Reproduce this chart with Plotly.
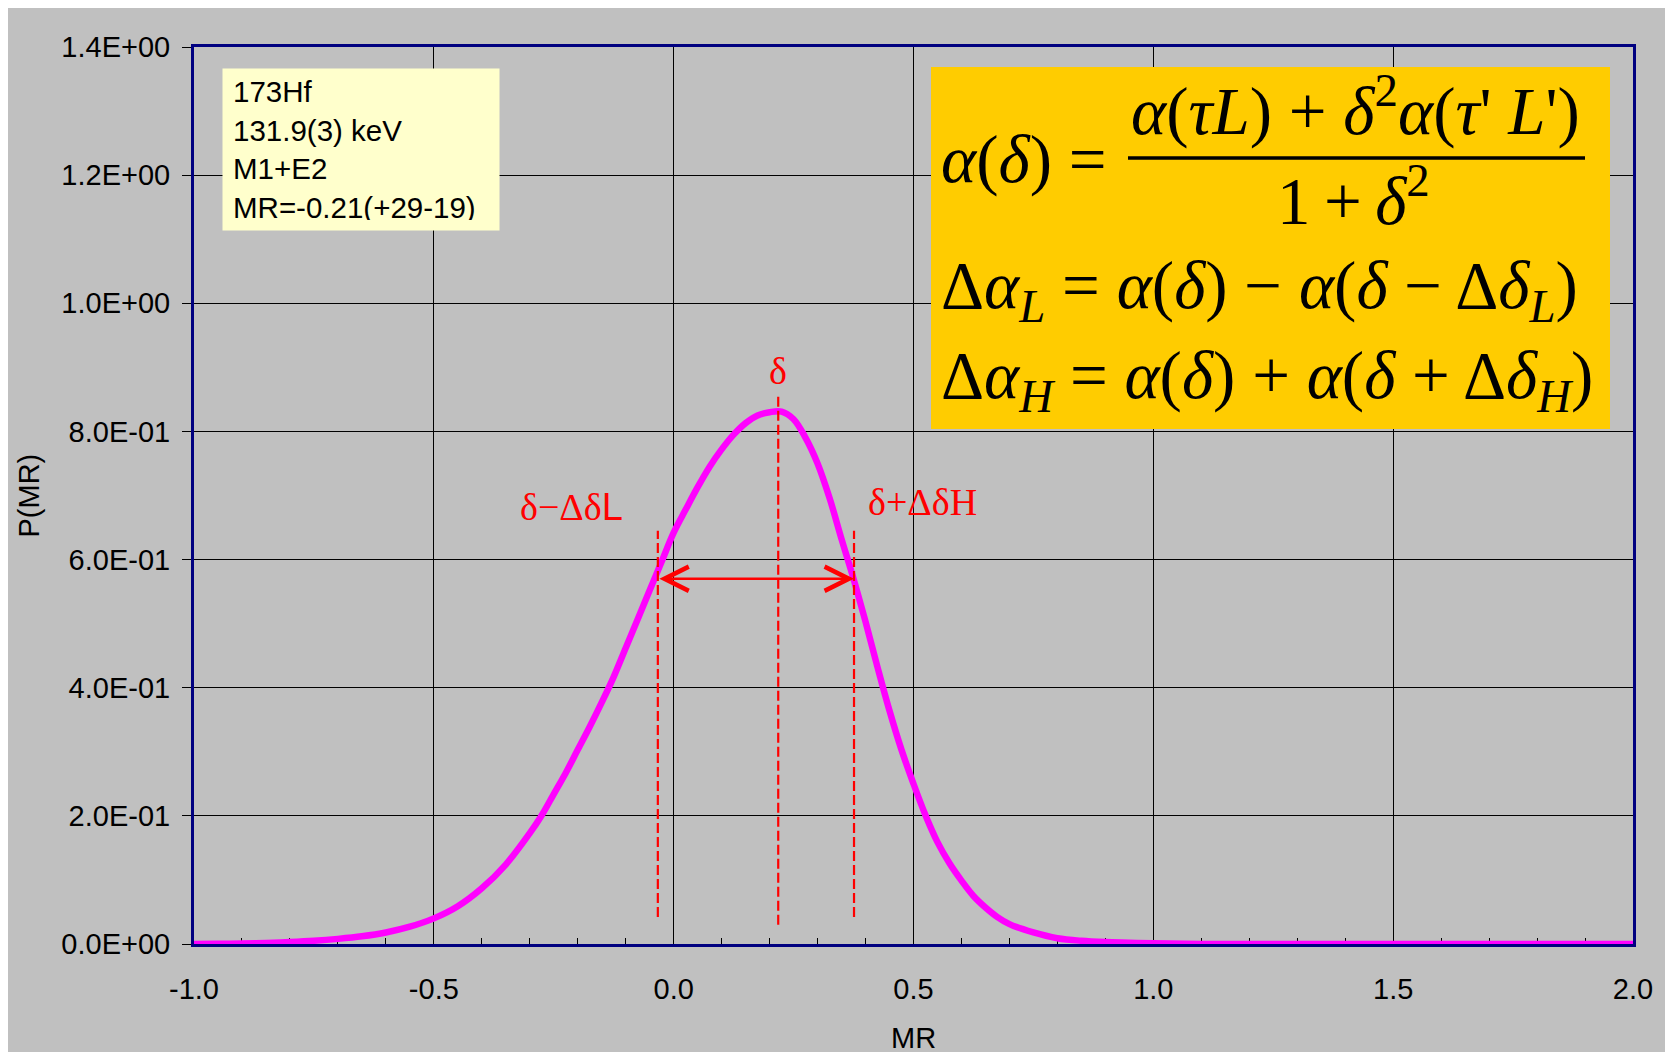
import plotly.graph_objects as go

# ---------------- data ----------------
mr = [-1.0, -0.95, -0.9, -0.85, -0.8, -0.75, -0.7, -0.65, -0.6, -0.55, -0.5, -0.45, -0.4, -0.35,
      -0.3, -0.275, -0.25, -0.225, -0.2, -0.175, -0.15, -0.125, -0.1, -0.075,
      -0.05, -0.025, 0.0, 0.025, 0.05, 0.075, 0.1, 0.125, 0.15, 0.175,
      0.2, 0.225, 0.25, 0.275, 0.3, 0.325, 0.35, 0.375, 0.4, 0.425,
      0.45, 0.475, 0.5, 0.525, 0.55, 0.575, 0.6, 0.625, 0.65, 0.675,
      0.7, 0.75, 0.8, 0.85, 0.9, 0.95, 1.0, 1.1, 1.2, 1.4, 1.6, 1.8, 2.0]
p_mr = [0.000, 0.0003, 0.0007, 0.0015, 0.003, 0.005, 0.008, 0.012, 0.018, 0.027, 0.040, 0.059, 0.087, 0.124,
        0.173, 0.201, 0.234, 0.267, 0.303, 0.339, 0.377, 0.417, 0.462, 0.507,
        0.552, 0.597, 0.642, 0.678, 0.713, 0.745, 0.772, 0.795, 0.813, 0.825,
        0.830, 0.831, 0.819, 0.790, 0.750, 0.696, 0.632, 0.570, 0.503, 0.432,
        0.364, 0.303, 0.250, 0.201, 0.159, 0.126, 0.099, 0.075, 0.057, 0.042,
        0.031, 0.018, 0.009, 0.005, 0.003, 0.002, 0.001, 0.0, 0.0, 0.0, 0.0, 0.0, 0.0]

delta = 0.218
delta_lo = -0.033
delta_hi = 0.376
delta_line_y = [0.03, 0.857]
side_line_y = [0.042, 0.645]
arrow_y = 0.570

x_tickvals = [-1.0, -0.5, 0.0, 0.5, 1.0, 1.5, 2.0]
x_ticktext = ["-1.0", "-0.5", "0.0", "0.5", "1.0", "1.5", "2.0"]
y_tickvals = [0.0, 0.2, 0.4, 0.6, 0.8, 1.0, 1.2, 1.4]
y_ticktext = ["0.0E+00", "2.0E-01", "4.0E-01", "6.0E-01", "8.0E-01", "1.0E+00", "1.2E+00", "1.4E+00"]

info_lines = ["173Hf", "131.9(3) keV", "M1+E2", "MR=-0.21(+29-19)"]

# ---------------- layout helpers ----------------
# the page body adds an 8 px margin; plot area edges in page pixels:
W, H = 1673, 1052
OFF = 8
L, R, T, B = 194, 1633, 47, 944


def px(xp):
    return (xp - L) / (R - L)


def py(yp):
    return (B - yp) / (B - T)


SANS = "Liberation Sans, Arial, sans-serif"
SERIF = "Liberation Serif, Times New Roman, serif"
GRAY = "#C0C0C0"
TICKFS = 29

fig = go.Figure()

fig.add_trace(go.Scatter(x=mr, y=p_mr, mode="lines",
                         line=dict(color="#FF00FF", width=6.5, shape="spline", smoothing=1.0),
                         cliponaxis=False, showlegend=False, hoverinfo="skip"))

dash_style = dict(color="#FF0000", width=2.2, dash="10px,4px")
fig.add_trace(go.Scatter(x=[delta, delta], y=delta_line_y, mode="lines",
                         line=dash_style, showlegend=False, hoverinfo="skip"))
fig.add_trace(go.Scatter(x=[delta_lo, delta_lo], y=side_line_y, mode="lines",
                         line=dash_style, showlegend=False, hoverinfo="skip"))
fig.add_trace(go.Scatter(x=[delta_hi, delta_hi], y=side_line_y, mode="lines",
                         line=dash_style, showlegend=False, hoverinfo="skip"))

annotations = []
# double arrow
annotations.append(dict(x=delta_hi, y=arrow_y, ax=delta_lo, ay=arrow_y,
                        xref="x", yref="y", axref="x", ayref="y", text="",
                        showarrow=True, arrowside="end+start", arrowhead=5, startarrowhead=5,
                        arrowsize=1.9, startarrowsize=1.9, arrowwidth=2.5, arrowcolor="#FF0000",
                        standoff=0, startstandoff=0))
# red labels
RED = dict(family=SERIF, size=38, color="#FF0000")
annotations.append(dict(x=delta, y=0.894, xref="x", yref="y", text="δ", showarrow=False,
                        xanchor="center", yanchor="middle", font=RED))
annotations.append(dict(x=-0.214, y=0.682, xref="x", yref="y",
                        text="δ−Δδ<span style='font-family:Liberation Sans'>L</span>",
                        xanchor="center", yanchor="middle", showarrow=False, font=RED))
annotations.append(dict(x=0.518, y=0.690, xref="x", yref="y", text="δ+ΔδH", showarrow=False,
                        xanchor="center", yanchor="middle", font=RED))

# info box
annotations.append(dict(x=px(222), y=py(68), xref="paper", yref="paper", xanchor="left", yanchor="top",
                        text="<br>".join(info_lines), align="left", showarrow=False,
                        bgcolor="#FFFFCC", borderpad=10, width=256, height=141,
                        font=dict(family=SANS, size=29.5, color="black")))

# formula text
FS = 67
fml = dict(family=SERIF, size=FS, color="black")
annotations.append(dict(x=px(939), y=py(160), xref="paper", yref="paper", xanchor="left", yanchor="middle",
                        text="<i>α</i>(<i>δ</i>) =", showarrow=False, font=fml))
annotations.append(dict(x=px(1355), y=py(106), xref="paper", yref="paper", xanchor="center", yanchor="middle",
                        text="<i>α</i>(<i>τL</i>) + <i>δ</i><sup>2</sup><i>α</i>(<i>τ</i>' <i>L</i>')",
                        showarrow=False, font=fml))
annotations.append(dict(x=px(1353), y=py(196), xref="paper", yref="paper", xanchor="center", yanchor="middle",
                        text="1\u2009+\u2009<i>δ</i><sup>2</sup>", showarrow=False, font=fml))
annotations.append(dict(x=px(939), y=py(290), xref="paper", yref="paper", xanchor="left", yanchor="middle",
                        text="Δ<i>α</i><sub><i>L</i></sub> = <i>α</i>(<i>δ</i>) − <i>α</i>(<i>δ</i> − Δ<i>δ</i><sub><i>L</i></sub>)",
                        showarrow=False, font=fml))
annotations.append(dict(x=px(939), y=py(380), xref="paper", yref="paper", xanchor="left", yanchor="middle",
                        text="Δ<i>α</i><sub><i>H</i></sub> = <i>α</i>(<i>δ</i>) + <i>α</i>(<i>δ</i> + Δ<i>δ</i><sub><i>H</i></sub>)",
                        showarrow=False, font=fml))

# axis titles
annotations.append(dict(x=0.5, y=py(1038), xref="paper", yref="paper", text="MR", showarrow=False,
                        xanchor="center", yanchor="middle",
                        font=dict(family=SANS, size=TICKFS, color="black")))
annotations.append(dict(x=px(28), y=0.5, xref="paper", yref="paper", text="P(MR)", showarrow=False,
                        xanchor="center", yanchor="middle", textangle=-90,
                        font=dict(family=SANS, size=TICKFS, color="black")))

shapes = [
    # formula box
    dict(type="rect", xref="paper", yref="paper", x0=px(931), x1=px(1610), y0=py(429), y1=py(67),
         fillcolor="#FFCC00", line=dict(width=0), layer="above"),
    # fraction bar
    dict(type="line", xref="paper", yref="paper", x0=px(1128), x1=px(1585), y0=py(158), y1=py(158),
         line=dict(color="black", width=3.5), layer="above"),
]

fig.update_layout(
    width=W, height=H,
    margin=dict(l=L - OFF, r=W - (R - OFF), t=T - OFF, b=H - (B - OFF), pad=0),
    paper_bgcolor=GRAY, plot_bgcolor=GRAY,
    font=dict(family=SANS, size=TICKFS, color="black"),
    showlegend=False,
    annotations=annotations,
    shapes=shapes,
)

fig.update_xaxes(range=[-1.0, 2.0], tickvals=x_tickvals, ticktext=x_ticktext,
                 showgrid=True, gridcolor="#000000", gridwidth=1, zeroline=False,
                 showline=True, mirror=True, linecolor="#000080", linewidth=3,
                 ticks="inside", ticklen=6, tickcolor="black", ticklabelstandoff=17,
                 minor=dict(dtick=0.1, ticks="inside", ticklen=6, tickcolor="black", showgrid=False),
                 tickfont=dict(family=SANS, size=TICKFS, color="black"), layer="below traces")
fig.update_yaxes(range=[0.0, 1.4], tickvals=y_tickvals, ticktext=y_ticktext,
                 showgrid=True, gridcolor="#000000", gridwidth=1, zeroline=False,
                 showline=True, mirror=True, linecolor="#000080", linewidth=3,
                 ticks="outside", ticklen=9, tickcolor="black", ticklabelstandoff=6,
                 tickfont=dict(family=SANS, size=TICKFS, color="black"), layer="below traces")

fig.write_html("out.html")
